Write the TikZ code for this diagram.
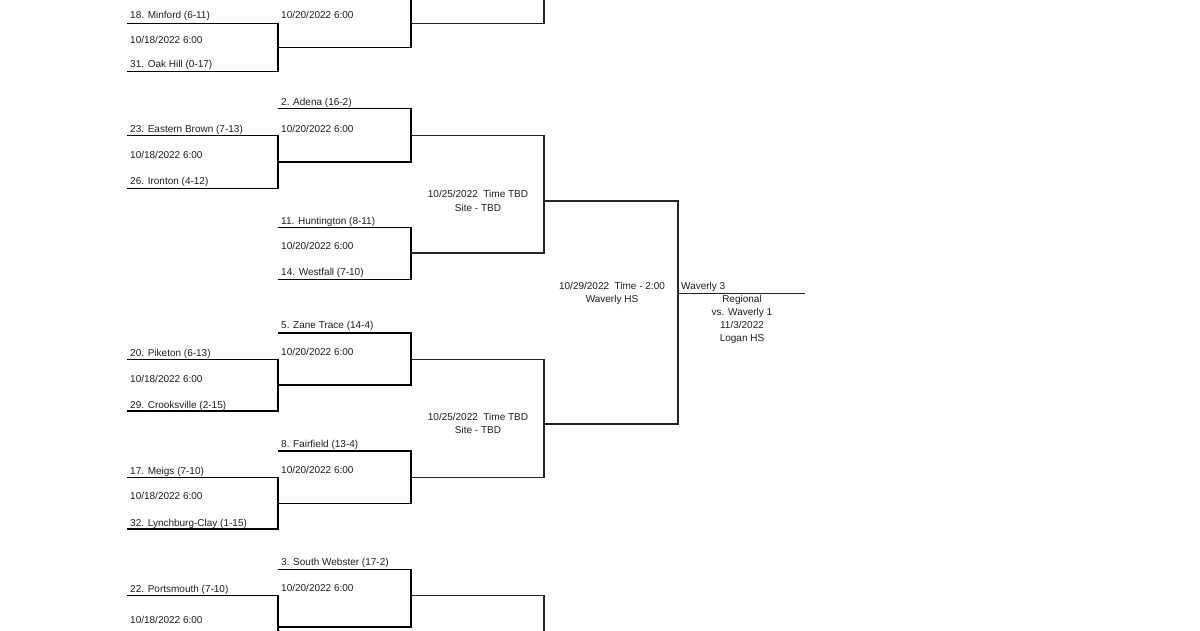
\documentclass[tikz,border=0pt]{standalone}
\usepackage{fontspec}
\setmainfont{Liberation Sans}
\newcommand\bgame[7]{%
  \coordinate (#1t) at (#2,#4);
  \coordinate (#1b) at (#2,#5);
  \coordinate (#1o) at (#3,#6);
  \draw[#7] (#1t) -| (#1b -| #1o) -- (#1b);}
\begin{document}
\begin{tikzpicture}[x=1pt,y=-1pt,
  lbl/.style={anchor=base west, inner sep=0pt, font=\fontsize{10}{12}\selectfont, text=black!88},
  ctr/.style={anchor=base, inner sep=0pt, font=\fontsize{10}{12}\selectfont, text=black!88},
  heavy/.style={line width=1.6pt, line join=miter, black},
  light/.style={line width=1.1pt, line join=miter, black!85}]
\useasboundingbox (0,0) rectangle (1200,630);
\clip (0,0) rectangle (1200,630);
\fill[white] (0,0) rectangle (1200,630);

% ---- first round (x 127 -> 278)
\bgame{aA}{127}{278}{23.3}{71.5}{47.5}{heavy}
\bgame{aB}{127}{278}{135.5}{188.3}{161.8}{heavy}
\bgame{aC}{127}{278}{359.3}{411}{385}{heavy}
\bgame{aD}{127}{278}{477.3}{529}{503.3}{heavy}
\bgame{aE}{127}{278}{595.3}{658.7}{627}{heavy}

% ---- second round (x 278 -> 411)
\bgame{bA}{278}{411}{-0.5}{47.5}{23.3}{heavy}
\bgame{bB}{278}{411}{108.3}{161.8}{135.5}{heavy}
\bgame{bC}{278}{411}{227.3}{279.3}{253}{heavy}
\bgame{bD}{278}{411}{332.7}{385}{359.3}{heavy}
\bgame{bE}{278}{411}{450.7}{503.3}{477.3}{heavy}
\bgame{bF}{278}{411}{569.3}{627}{595.3}{heavy}

% ---- third round (x 411 -> 544)
\coordinate (cTopEnd) at (544,-30);
\draw[light] (bAo) -| (cTopEnd);
\bgame{cA}{411}{544}{135.5}{253}{201}{light}
\bgame{cB}{411}{544}{359.3}{477.3}{424}{light}
\coordinate (cBotEnd) at (544,670);
\draw[light] (bFo) -| (cBotEnd);

% ---- fourth round (x 544 -> 678)
\bgame{dA}{544}{678}{201}{424}{293.3}{light}
\coordinate (champ) at (805,293.3);
\draw[light] (dAo) -- (champ);

% ---- labels, first round
\node[lbl] (t18) at (130,18.6) {18. Minford (6-11)};
\node[lbl] (dA1) at (130,43.6) {10/18/2022 6:00};
\node[lbl] (t31) at (130,67.6) {31. Oak Hill (0-17)};
\node[lbl] (t23) at (130,132) {23. Eastern Brown (7-13)};
\node[lbl] (dB1) at (130,158) {10/18/2022 6:00};
\node[lbl] (t26) at (130,184.6) {26. Ironton (4-12)};
\node[lbl] (t20) at (130,356) {20. Piketon (6-13)};
\node[lbl] (dC1) at (130,382) {10/18/2022 6:00};
\node[lbl] (t29) at (130,408) {29. Crooksville (2-15)};
\node[lbl] (t17) at (130,474.3) {17. Meigs (7-10)};
\node[lbl] (dD1) at (130,499.3) {10/18/2022 6:00};
\node[lbl] (t32) at (130,526) {32. Lynchburg-Clay (1-15)};
\node[lbl] (t22) at (130,592) {22. Portsmouth (7-10)};
\node[lbl] (dE1) at (130,623.6) {10/18/2022 6:00};

% ---- labels, second round
\node[lbl] (dA2) at (281,18.6) {10/20/2022 6:00};
\node[lbl] (t2) at (281,105.3) {2. Adena (16-2)};
\node[lbl] (dB2) at (281,132) {10/20/2022 6:00};
\node[lbl] (t11) at (281,224.3) {11. Huntington (8-11)};
\node[lbl] (dC2) at (281,249.6) {10/20/2022 6:00};
\node[lbl] (t14) at (281,275.6) {14. Westfall (7-10)};
\node[lbl] (t5) at (281,328.6) {5. Zane Trace (14-4)};
\node[lbl] (dD2) at (281,355.3) {10/20/2022 6:00};
\node[lbl] (t8) at (281,447.6) {8. Fairfield (13-4)};
\node[lbl] (dE2) at (281,473.6) {10/20/2022 6:00};
\node[lbl] (t3) at (281,565.3) {3. South Webster (17-2)};
\node[lbl] (dF2) at (281,591.3) {10/20/2022 6:00};

% ---- labels, third round
\node[ctr] (dA3) at (478,197.6) {10/25/2022\ \ Time TBD};
\node[ctr] (sA3) at (478,211.3) {Site - TBD};
\node[ctr] (dB3) at (478,420.9) {10/25/2022\ \ Time TBD};
\node[ctr] (sB3) at (478,433.9) {Site - TBD};

% ---- labels, fourth round and final
\node[ctr] (dA4) at (612,289.6) {10/29/2022\ \ Time - 2:00};
\node[ctr] (sA4) at (612,302.3) {Waverly HS};
\node[lbl] (win) at (681,289.6) {Waverly 3};
\node[ctr] (r1) at (742,302.3) {Regional};
\node[ctr] (r2) at (742,315.3) {vs. Waverly 1};
\node[ctr] (r3) at (742,328.9) {11/3/2022};
\node[ctr] (r4) at (742,341.6) {Logan HS};
\end{tikzpicture}
\end{document}
